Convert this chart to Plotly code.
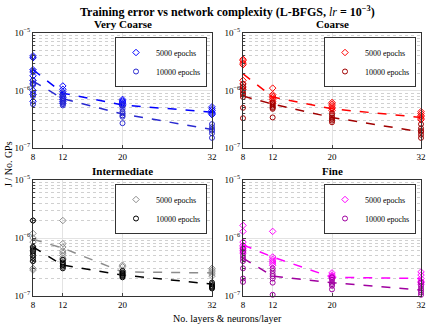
import plotly.graph_objects as go
from plotly.subplots import make_subplots

FONT = "Liberation Serif"
LAYERS = [8, 12, 20, 32]
PANELS = ["Very Coarse", "Coarse", "Intermediate", "Fine"]

# scattered runs per layer size (8, 12, 20, 32)
VC_5000 = [
    [4.0e-6, 3.7e-6, 2.3e-6, 2.1e-6, 1.8e-6, 1.5e-6, 1.3e-6, 1.0e-6, 8.5e-7, 6.5e-7],
    [1.2e-6, 1.05e-6, 9.5e-7, 8.5e-7, 8e-7, 7.5e-7, 7e-7, 6.5e-7, 6e-7],
    [7e-7, 6.6e-7, 6.3e-7, 6e-7, 5.7e-7, 5.4e-7],
    [5.2e-7, 4.8e-7, 4.5e-7, 4.2e-7, 4e-7, 3.8e-7],
]
VC_10000 = [
    [3.8e-6, 2.2e-6, 1.5e-6, 1.35e-6, 1.25e-6, 9e-7, 8e-7, 5.8e-7],
    [9e-7, 8e-7, 7.2e-7, 6.6e-7, 6.2e-7, 5.8e-7, 5.5e-7],
    [5.5e-7, 4.8e-7, 4.3e-7, 4e-7, 3.7e-7, 3.5e-7, 2.7e-7],
    [2.6e-7, 2.3e-7, 2.1e-7, 2e-7, 1.8e-7, 1.5e-7],
]
C_5000 = [
    [3.5e-6, 3.3e-6, 3.0e-6, 2.8e-6, 1.5e-6, 1.3e-6, 1.15e-6, 1.05e-6],
    [1.1e-6, 8.5e-7, 8e-7, 7.5e-7, 7e-7, 6.5e-7, 6e-7],
    [6.2e-7, 5.8e-7, 5.4e-7, 5e-7, 4.8e-7, 4.5e-7],
    [4.3e-7, 4e-7, 3.7e-7, 3.5e-7, 3.3e-7, 3.1e-7],
]
C_10000 = [
    [1.3e-6, 1.15e-6, 1.0e-6, 9e-7, 8.5e-7, 7.7e-7, 5e-7, 3.3e-7],
    [6.2e-7, 5.8e-7, 5.5e-7, 5.2e-7, 5e-7, 4.8e-7, 3.4e-7],
    [4e-7, 3.7e-7, 3.4e-7, 3.2e-7, 3e-7, 2.8e-7],
    [2.6e-7, 2.2e-7, 2e-7, 1.9e-7, 1.7e-7, 1.5e-7],
]
I_5000 = [
    [2e-6, 1.2e-6, 1.0e-6, 8.5e-7, 7e-7, 6e-7, 5e-7, 4e-7, 3e-7, 2.8e-7],
    [2e-6, 8e-7, 7e-7, 6e-7, 5.5e-7, 5e-7, 4.5e-7, 4.2e-7],
    [3.4e-7, 3.2e-7, 2.7e-7, 2.5e-7, 2.3e-7],
    [3e-7, 2.8e-7, 2.6e-7, 2.4e-7, 2.2e-7],
]
I_10000 = [
    [2e-6, 7e-7, 6.5e-7, 6e-7, 5.5e-7, 5e-7, 4.5e-7, 4e-7],
    [4.2e-7, 3.8e-7, 3.6e-7, 3.4e-7, 3.2e-7, 3e-7],
    [2.7e-7, 2.5e-7, 2.4e-7, 2.3e-7, 2.2e-7, 2.1e-7],
    [1.7e-7, 1.6e-7, 1.5e-7, 1.45e-7, 1.4e-7, 1.35e-7],
]
F_5000 = [
    [1.65e-6, 1.3e-6, 8.5e-7, 7.5e-7, 7e-7, 6.5e-7, 6e-7, 5.5e-7],
    [1.3e-6, 4.7e-7, 4.3e-7, 4e-7, 3.7e-7, 3.4e-7],
    [2.5e-7, 2.3e-7, 2.2e-7, 2.1e-7, 2e-7],
    [2.6e-7, 2.3e-7, 2e-7, 1.8e-7, 1.7e-7, 1.6e-7],
]
F_10000 = [
    [6.5e-7, 5.8e-7, 5e-7, 4.5e-7, 4e-7, 3e-7, 2e-7, 1.75e-7],
    [3e-7, 2.7e-7, 2.4e-7, 2.2e-7, 2e-7, 1.7e-7, 1.05e-7],
    [2.1e-7, 1.9e-7, 1.7e-7, 1.6e-7, 1.5e-7, 1.3e-7],
    [1.7e-7, 1.5e-7, 1.35e-7, 1.25e-7, 1.15e-7, 1.05e-7],
]

# dashed trend lines
VC_5000_TREND = [2.3e-6, 9e-7, 5.6e-7, 4.2e-7]
VC_10000_TREND = [1.46e-6, 7.2e-7, 3.9e-7, 2.1e-7]
C_5000_TREND = [1.95e-6, 7.7e-7, 4.8e-7, 3.4e-7]
C_10000_TREND = [8e-7, 5.8e-7, 3.4e-7, 1.9e-7]
I_5000_TREND = [9.5e-7, 6.7e-7, 2.6e-7, 2.5e-7]
I_10000_TREND = [7e-7, 3.4e-7, 2.3e-7, 1.6e-7]
F_5000_TREND = [7.6e-7, 4.7e-7, 2.1e-7, 2e-7]
F_10000_TREND = [4.5e-7, 2.2e-7, 1.7e-7, 1.27e-7]

SERIES = [
    (VC_5000, VC_10000, VC_5000_TREND, VC_10000_TREND, "#0000ff", "#2a2ad0"),
    (C_5000, C_10000, C_5000_TREND, C_10000_TREND, "#ff0000", "#a00000"),
    (I_5000, I_10000, I_5000_TREND, I_10000_TREND, "#8c8c8c", "#000000"),
    (F_5000, F_10000, F_5000_TREND, F_10000_TREND, "#ff00ff", "#a000a0"),
]

W, H = 430, 325
# panel pixel boxes (left, right, top, bottom)
BOXES = [(33, 212, 33, 148), (243, 421, 33, 148), (33, 212, 180, 296), (243, 421, 180, 296)]

fig = make_subplots(rows=2, cols=2)

for i, (s5, s10, t5, t10, c5, c10) in enumerate(SERIES):
    row, col = i // 2 + 1, i % 2 + 1
    leg = "legend" if i == 0 else "legend%d" % (i + 1)
    x5 = [LAYERS[k] for k, vals in enumerate(s5) for _ in vals]
    y5 = [v for vals in s5 for v in vals]
    x10 = [LAYERS[k] for k, vals in enumerate(s10) for _ in vals]
    y10 = [v for vals in s10 for v in vals]
    fig.add_trace(go.Scatter(x=LAYERS, y=t5, mode="lines", showlegend=False, cliponaxis=False,
                             line=dict(color=c5, width=1.5, dash="dash")), row=row, col=col)
    fig.add_trace(go.Scatter(x=LAYERS, y=t10, mode="lines", showlegend=False, cliponaxis=False,
                             line=dict(color=c10, width=1.5, dash="dash")), row=row, col=col)
    fig.add_trace(go.Scatter(x=x5, y=y5, mode="markers", name="5000 epochs", legend=leg, cliponaxis=False,
                             marker=dict(symbol="diamond-open", size=5, color=c5, line=dict(width=1))),
                  row=row, col=col)
    fig.add_trace(go.Scatter(x=x10, y=y10, mode="markers", name="10000 epochs", legend=leg, cliponaxis=False,
                             marker=dict(symbol="circle-open", size=5, color=c10, line=dict(width=1))),
                  row=row, col=col)

    l, r, t, b = BOXES[i]
    sfx = "" if i == 0 else str(i + 1)
    fig.layout["xaxis" + sfx].update(domain=[l / W, r / W])
    fig.layout["yaxis" + sfx].update(domain=[(H - b) / H, (H - t) / H])
    fig.layout[leg] = dict(x=(r - 5) / W, y=(H - t - 4) / H, xanchor="right", yanchor="top",
                           bgcolor="white", bordercolor="#333333", borderwidth=1,
                           font=dict(family=FONT, size=8, color="black"),
                           tracegroupgap=0, itemwidth=30)
    fig.add_annotation(text="<b>%s</b>" % PANELS[i], x=(l + r) / 2 / W, y=(H - t + 1) / H,
                       xref="paper", yref="paper", xanchor="center", yanchor="bottom",
                       showarrow=False, font=dict(family=FONT, size=11, color="black"))

fig.update_xaxes(range=[8, 32], tickvals=LAYERS, ticks="inside", ticklen=3, automargin=False,
                 showgrid=True, gridcolor="#e3e3e3", gridwidth=1,
                 showline=True, mirror=True, linecolor="#333333", linewidth=1,
                 zeroline=False, tickfont=dict(family=FONT, size=9, color="black"))
fig.update_yaxes(type="log", range=[-7, -5], tickvals=[1e-7, 1e-6, 1e-5], automargin=False,
                 ticktext=["10<sup>\u22127</sup>", "10<sup>\u22126</sup>", "10<sup>\u22125</sup>"],
                 ticks="inside", ticklen=3,
                 showgrid=True, gridcolor="#e3e3e3", gridwidth=1,
                 minor=dict(tickvals=[k * 10.0 ** e for e in (-7, -6) for k in range(2, 10)],
                            showgrid=True, gridcolor="#d0d0d0", griddash="dot", gridwidth=1,
                            ticks="inside", ticklen=2),
                 showline=True, mirror=True, linecolor="#333333", linewidth=1,
                 zeroline=False, tickfont=dict(family=FONT, size=9, color="black"))

fig.add_annotation(text="<b>Training error vs network complexity (L-BFGS, </b><i>lr</i><b> = 10<sup>\u22123</sup>)</b>",
                   x=227 / W, y=(H - 2) / H, xref="paper", yref="paper", xanchor="center", yanchor="top",
                   showarrow=False, font=dict(family=FONT, size=12, color="black"))
fig.add_annotation(text="J / No. GPs", x=8 / W, y=(H - 164) / H, xref="paper", yref="paper",
                   xanchor="center", yanchor="middle",
                   textangle=-90, showarrow=False, font=dict(family=FONT, size=10, color="black"))
fig.add_annotation(text="No. layers &amp; neurons/layer", x=227 / W, y=(H - 318) / H,
                   xref="paper", yref="paper", xanchor="center", yanchor="middle", showarrow=False,
                   font=dict(family=FONT, size=10, color="black"))

fig.update_layout(width=W, height=H, margin=dict(l=0, r=0, t=0, b=0, autoexpand=False),
                  paper_bgcolor="white", plot_bgcolor="white",
                  font=dict(family=FONT, size=9, color="black"))

# drop the default page margin so the figure sits at the window's corner
fig.write_html("out.html", config={"displayModeBar": False},
               post_script="document.body.style.margin='0';")
